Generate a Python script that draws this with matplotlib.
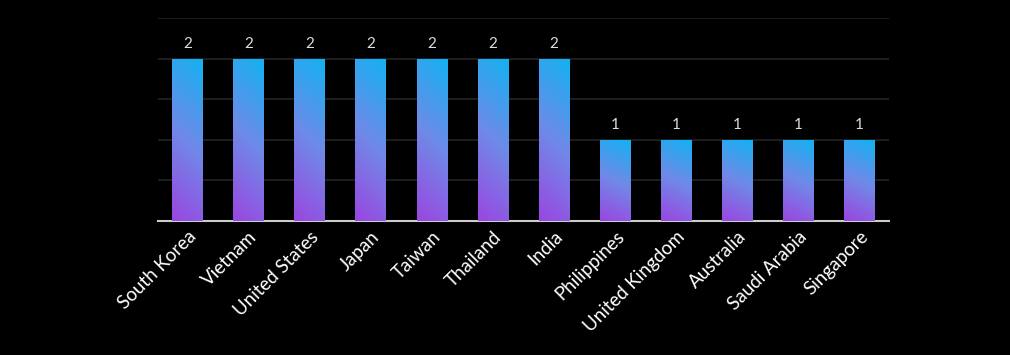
import numpy as np
import matplotlib.pyplot as plt
from matplotlib.colors import LinearSegmentedColormap

countries = ['South Korea', 'Vietnam', 'United States', 'Japan', 'Taiwan', 'Thailand',
             'India', 'Philippines', 'United Kingdom', 'Australia', 'Saudi Arabia', 'Singapore']
counts = [2, 2, 2, 2, 2, 2, 2, 1, 1, 1, 1, 1]

plt.rcParams['font.family'] = ['Lato', 'DejaVu Sans']

fig = plt.figure(figsize=(10.1, 3.55), dpi=100, facecolor='black')
ax = fig.add_axes([0.1564, 0.3775, 0.7238, 0.5715])
ax.set_facecolor('black')

x = np.arange(len(countries))
bars = ax.bar(x, counts, width=0.5, color='none', edgecolor='none', zorder=3)

cmap = LinearSegmentedColormap.from_list('grad', ['#9a46e0', '#6f8ae8', '#12b2f2'])
# diagonal gradient: mostly vertical, slightly brighter toward top-right
yy, xx = np.mgrid[0:1:200j, 0:1:20j]
grad = np.clip(0.85 * yy + 0.15 * xx, 0, 1)

for b, n in zip(bars, counts):
    x0, w, h = b.get_x(), b.get_width(), b.get_height()
    im = ax.imshow(grad, cmap=cmap, origin='lower', aspect='auto',
                   extent=[x0, x0 + w, 0, h], zorder=3, interpolation='bilinear')
    im.set_clip_path(b)
    ax.text(x0 + w / 2, h + 0.1, str(n), ha='center', va='bottom',
            color='#dddddd', fontsize=11)

ax.set_xlim(-0.48, len(countries) - 0.52)
ax.set_ylim(0, 2.5)
ax.set_yticks([0.5, 1, 1.5, 2, 2.5])
ax.yaxis.grid(True, color='#222326', linewidth=1.2)
ax.set_axisbelow(True)
ax.tick_params(axis='y', length=0, labelleft=False)
ax.tick_params(axis='x', length=0, colors='white', pad=5)
ax.set_xticks(x)
ax.set_xticklabels(countries, rotation=45, ha='right', rotation_mode='anchor', fontsize=13.5)
for s in ['top', 'right', 'left']:
    ax.spines[s].set_visible(False)
ax.spines['bottom'].set_color('#cccccc')
ax.spines['bottom'].set_linewidth(1.5)

fig.savefig('out.png', dpi=100, facecolor='black')
